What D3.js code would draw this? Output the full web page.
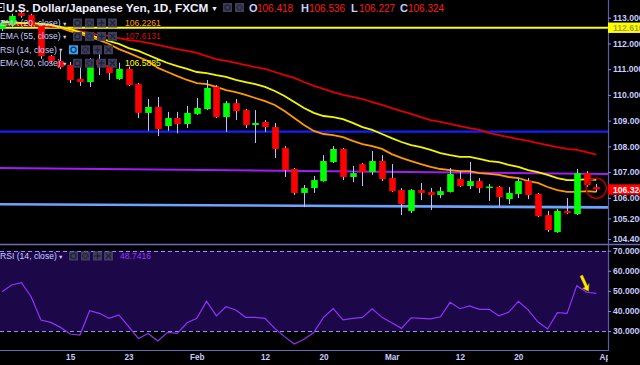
<!DOCTYPE html>
<html>
<head>
<meta charset="utf-8">
<script src="https://cdn.jsdelivr.net/npm/d3@7"></script>
<style>
  html, body { margin: 0; padding: 0; background: #000; }
  svg { display: block; font-family: "Liberation Sans", Arial, sans-serif; }
</style>
</head>
<body>
<div id="chart"></div>
<script>
const width = 640;
const height = 365;
const plotRight = 608;

// trading sessions (2018)
const dates = ["01-04","01-05","01-08","01-09","01-10","01-11","01-12","01-15","01-16","01-17",
  "01-18","01-19","01-22","01-23","01-24","01-25","01-26","01-29","01-30","01-31",
  "02-01","02-02","02-05","02-06","02-07","02-08","02-09","02-12","02-13","02-14",
  "02-15","02-16","02-19","02-20","02-21","02-22","02-23","02-26","02-27","02-28",
  "03-01","03-02","03-05","03-06","03-07","03-08","03-09","03-12","03-13","03-14",
  "03-15","03-16","03-19","03-20","03-21","03-22","03-23","03-26","03-27","03-28",
  "03-29","03-30"];

const open = [112.56,112.72,113.18,113.10,112.68,111.51,111.32,111.16,110.62,110.50,
  111.36,111.16,110.62,111.01,110.42,109.30,109.53,108.79,109.10,108.87,
  109.26,109.45,110.31,109.14,109.68,109.41,108.83,108.95,108.75,107.94,
  107.12,106.19,106.38,106.65,107.39,107.90,106.81,107.31,107.00,107.43,
  106.77,106.30,105.49,106.30,106.23,106.11,106.23,106.73,106.46,106.65,
  106.40,106.42,105.95,106.15,106.65,106.15,105.33,104.67,105.49,105.37,
  106.96,106.418];
const high = [112.91,113.15,113.30,113.15,112.72,111.55,111.70,111.28,111.08,111.43,
  111.74,111.36,111.25,111.10,110.46,109.84,109.92,109.34,109.34,109.57,
  109.88,110.58,110.38,109.76,109.84,109.45,109.41,109.02,108.91,108.01,
  107.16,106.50,106.85,107.66,108.01,107.94,107.24,107.35,107.82,107.66,
  107.31,106.38,106.34,106.58,106.38,106.42,107.16,107.04,107.39,106.77,
  106.54,106.46,106.42,106.77,106.77,106.19,105.49,105.56,105.99,107.12,
  107.04,106.536];
const low = [112.48,112.65,113.00,112.65,111.40,111.25,111.00,110.46,110.35,110.31,
  110.77,110.58,110.58,110.35,109.10,108.60,108.40,108.60,108.51,108.71,
  109.22,109.41,109.10,108.56,109.02,108.71,108.13,108.56,107.55,106.81,
  106.11,105.64,106.19,106.63,107.35,106.69,106.61,106.46,106.89,106.65,
  106.23,105.33,105.41,105.91,105.53,105.99,106.21,106.42,106.34,106.19,
  105.88,105.68,105.76,105.99,105.95,105.25,104.67,104.64,105.37,105.33,
  106.42,106.227];
const close = [112.79,113.07,113.07,112.72,111.51,111.32,111.08,110.58,110.50,111.36,
  111.16,110.85,111.01,110.38,109.30,109.53,108.67,109.10,108.87,109.30,
  109.49,110.27,109.14,109.68,109.37,108.83,108.91,108.75,107.90,107.08,
  106.19,106.38,106.69,107.43,107.90,106.81,106.96,107.00,107.43,106.73,
  106.26,105.76,106.30,106.19,106.11,106.26,106.93,106.46,106.65,106.38,
  106.44,106.03,106.19,106.65,106.11,105.29,104.75,105.49,105.41,106.96,
  106.50,106.324];

const ema20 = [112.83,112.83,112.79,112.79,112.76,112.72,112.60,112.48,112.37,112.25,
  112.13,111.98,111.78,111.63,111.47,111.32,111.05,110.89,110.73,110.58,
  110.46,110.42,110.31,110.19,110.11,110.00,109.88,109.76,109.61,109.37,
  109.10,108.83,108.60,108.48,108.44,108.36,108.21,108.09,108.01,107.90,
  107.70,107.55,107.43,107.31,107.20,107.12,107.08,107.04,107.04,106.96,
  106.93,106.89,106.81,106.77,106.65,106.58,106.42,106.30,106.23,106.23,
  106.26,106.23];
const ema30 = [112.83,112.83,112.79,112.79,112.76,112.72,112.64,112.56,112.44,112.33,
  112.21,112.09,111.98,111.82,111.71,111.55,111.39,111.24,111.12,111.01,
  110.89,110.85,110.77,110.70,110.58,110.50,110.42,110.31,110.15,109.96,
  109.72,109.49,109.30,109.18,109.14,109.06,108.91,108.75,108.64,108.48,
  108.32,108.17,108.05,107.97,107.86,107.74,107.66,107.59,107.59,107.51,
  107.43,107.39,107.28,107.20,107.08,107.00,106.89,106.77,106.69,106.69,
  106.73,106.70];
const ema55 = [112.76,112.72,112.72,112.68,112.68,112.64,112.64,112.56,112.48,112.41,
  112.33,112.29,112.21,112.13,112.09,112.02,111.94,111.86,111.78,111.71,
  111.63,111.51,111.39,111.32,111.24,111.16,111.08,111.01,110.89,110.77,
  110.66,110.50,110.35,110.23,110.11,110.00,109.92,109.84,109.72,109.61,
  109.49,109.37,109.26,109.14,109.02,108.95,108.87,108.79,108.71,108.64,
  108.52,108.44,108.36,108.28,108.21,108.13,108.05,107.97,107.90,107.86,
  107.78,107.68];

const rsi = [49.6,52.9,54.1,47.1,35.5,34.3,31.8,28.5,28.0,40.1,
  38.8,36.3,38.0,32.2,26.3,28.8,25.0,29.3,28.8,34.1,
  36.3,44.9,37.5,42.1,40.5,36.8,36.8,36.3,31.3,27.2,
  23.5,25.9,29.2,36.8,41.1,35.5,36.3,36.8,41.0,36.8,
  34.1,31.3,36.6,36.3,36.0,37.1,44.3,41.1,42.5,40.8,
  40.8,37.6,39.3,44.8,40.5,34.6,31.0,39.1,38.8,52.6,
  49.3,48.7416];

const priceTicks = [113, 112, 111, 110, 109, 108, 107, 106, 105.2, 104.4];
const rsiTicks = [70, 60, 50, 40, 30];
const nextSession = "04-02";
const xTickDates = ["01-15","01-23","02-01","02-12","02-20","03-01","03-12","03-20","04-02"];
const xTickLabels = ["15","23","Feb","12","20","Mar","12","20","Apr"];

// drawn levels: price at the left edge and at the right edge of the plot
const levels = [
  { name: "resistance", left: 112.61, right: 112.61, color: "#ffff00", w: 2 },
  { name: "mid", left: 108.57, right: 108.57, color: "#1420ff", w: 2.2 },
  { name: "trend", left: 107.16, right: 106.93, color: "#a01ef5", w: 2 },
  { name: "support", left: 105.75, right: 105.63, color: "#6ea4ff", w: 2.6 }
];

const legendRows = [
  { label: "EMA (20, close)", value: "106.2261", color: "#ff9d00" },
  { label: "EMA (55, close)", value: "107.6131", color: "#d41010" },
  { label: "RSI (14, close)", value: "", color: "" },
  { label: "EMA (30, close)", value: "106.5885", color: "#ffff00" }
];

const textColor = "#c8ccff";
const axisColor = "#5c5ca8";

const svg = d3.select("#chart")
  .append("svg")
  .attr("width", width)
  .attr("height", height);

svg.append("rect").attr("width", width).attr("height", height).attr("fill", "#000");

const sessions = dates.concat([nextSession]);
const x = d3.scaleLinear().domain([-0.2, 62.2]).range([0, plotRight]);
const y = d3.scaleLinear().domain([104.4, 113]).range([239, 17.7]);
const yRsi = d3.scaleLinear().domain([30, 70]).range([331, 250.7]);

const defs = svg.append("defs");
defs.append("clipPath").attr("id", "clip-price")
  .append("rect").attr("x", 0).attr("y", 0).attr("width", plotRight).attr("height", 243);
defs.append("clipPath").attr("id", "clip-bottom")
  .append("rect").attr("x", 0).attr("y", 240).attr("width", plotRight).attr("height", 125);

// ---------- price panel ----------
const price = svg.append("g").attr("clip-path", "url(#clip-price)");

price.selectAll(".level")
  .data(levels)
  .join("line")
  .attr("class", "level")
  .attr("x1", x(-0.2)).attr("x2", x(62.2))
  .attr("y1", d => y(d.left)).attr("y2", d => y(d.right))
  .attr("stroke", d => d.color)
  .attr("stroke-width", d => d.w);

const emaLine = d3.line().x((d, i) => x(i)).y(d => y(d));
[[ema55, "#e00000"], [ema20, "#ff9900"], [ema30, "#f5f500"]].forEach(([series, color]) => {
  price.append("path")
    .attr("d", emaLine(series))
    .attr("fill", "none")
    .attr("stroke", color)
    .attr("stroke-width", 1.8);
});

const candles = dates.map((d, i) => ({ i, o: open[i], h: high[i], l: low[i], c: close[i] }));

price.selectAll(".wick")
  .data(candles)
  .join("line")
  .attr("class", "wick")
  .attr("x1", d => Math.round(x(d.i)) + 0.5)
  .attr("x2", d => Math.round(x(d.i)) + 0.5)
  .attr("y1", d => y(d.h))
  .attr("y2", d => y(d.l))
  .attr("stroke", "#c0c0ff")
  .attr("stroke-width", 1);

price.selectAll(".body")
  .data(candles)
  .join("rect")
  .attr("class", "body")
  .attr("x", d => Math.round(x(d.i)) - 2.8)
  .attr("width", 6.6)
  .attr("y", d => y(Math.max(d.o, d.c)))
  .attr("height", d => Math.max(1.6, Math.abs(y(d.o) - y(d.c))))
  .attr("fill", d => d.c >= d.o ? "#00ff00" : "#ff0000");

// circle around the last candle
const last = candles[candles.length - 1];
price.append("circle")
  .attr("cx", x(last.i))
  .attr("cy", y((last.o + last.c) / 2))
  .attr("r", 10)
  .attr("fill", "none")
  .attr("stroke", "#b00000")
  .attr("stroke-width", 1.5);

// ---------- header ----------
const header = svg.append("g");
header.append("rect").attr("x", -4).attr("y", 3.5).attr("width", 8).attr("height", 8)
  .attr("fill", "none").attr("stroke", "#e0e0ff").attr("stroke-width", 1);
header.append("line").attr("x1", -2).attr("x2", 2).attr("y1", 7.5).attr("y2", 7.5)
  .attr("stroke", "#e0e0ff");
header.append("text")
  .attr("x", 6).attr("y", 12)
  .attr("font-size", 11.8).attr("font-weight", "bold")
  .attr("fill", "#eeeeff")
  .text("U.S. Dollar/Japanese Yen, 1D, FXCM");
header.append("text").attr("x", 211).attr("y", 10.5).attr("font-size", 7)
  .attr("fill", "#eeeeff").text("▼");

function icon(g, x0, y0, kind, bg) {
  g.append("rect").attr("x", x0).attr("y", y0).attr("width", 9).attr("height", 9)
    .attr("fill", bg || "#3e3e5c");
  const cx = x0 + 4.5, cy = y0 + 4.5, ink = bg ? "#103060" : "#202036";
  if (kind === "eye") {
    g.append("circle").attr("cx", cx).attr("cy", cy).attr("r", 2.6)
      .attr("fill", "none").attr("stroke", ink).attr("stroke-width", 1.2);
  } else if (kind === "gear") {
    g.append("circle").attr("cx", cx).attr("cy", cy).attr("r", 2.4)
      .attr("fill", "none").attr("stroke", ink).attr("stroke-width", 1.8).attr("stroke-dasharray", "1.2,0.8");
  } else if (kind === "plus") {
    g.append("path").attr("d", `M${cx - 3},${cy}H${cx + 3}M${cx},${cy - 3}V${cy + 3}`)
      .attr("stroke", ink).attr("stroke-width", 1.3);
  } else {
    g.append("path").attr("d", `M${cx - 2.5},${cy - 2.5}L${cx + 2.5},${cy + 2.5}M${cx + 2.5},${cy - 2.5}L${cx - 2.5},${cy + 2.5}`)
      .attr("stroke", ink).attr("stroke-width", 1.3);
  }
}

icon(header, 223, 3, "eye");
icon(header, 235, 3, "gear");

const ohlcLabels = [["O", open], ["H", high], ["L", low], ["C", close]];
const ohlcX = [249, 301, 351, 400];
ohlcLabels.forEach(([k, arr], j) => {
  header.append("text").attr("x", ohlcX[j]).attr("y", 12)
    .attr("font-size", 11).attr("font-weight", "bold").attr("fill", textColor).text(k);
  header.append("text").attr("x", ohlcX[j] + 8).attr("y", 12)
    .attr("font-size", 10).attr("fill", "#ff1a1a").text(d3.format(".3f")(arr[arr.length - 1]));
});

// ---------- legend ----------
const legend = svg.append("g");
legendRows.forEach((row, j) => {
  const cy = 23 + j * 13.4;
  legend.append("text").attr("x", 0).attr("y", cy + 3)
    .attr("font-size", 8.6).attr("fill", textColor).text(row.label);
  const isRsi = row.value === "";
  const arrowX = isRsi ? 54 : 58;
  legend.append("text").attr("x", arrowX + 4).attr("y", cy + 2.5)
    .attr("font-size", 5.5).attr("fill", textColor).text("▼");
  const ix = isRsi ? 69 : 73;
  icon(legend, ix, cy - 4.5, "eye", isRsi ? "#39a6f2" : null);
  icon(legend, ix + 12, cy - 4.5, "gear");
  icon(legend, ix + 24, cy - 4.5, "plus");
  icon(legend, ix + 35, cy - 4.5, "close");
  if (!isRsi) {
    legend.append("text").attr("x", 125).attr("y", cy + 3)
      .attr("font-size", 8.6).attr("fill", row.color).text(row.value);
  }
});

// ---------- RSI panel ----------
svg.append("rect")
  .attr("x", 0).attr("width", plotRight)
  .attr("y", yRsi(70)).attr("height", yRsi(30) - yRsi(70))
  .attr("fill", "#1c0849");

svg.selectAll(".rsi-band")
  .data([70, 30])
  .join("line")
  .attr("class", "rsi-band")
  .attr("x1", 0).attr("x2", plotRight)
  .attr("y1", d => Math.round(yRsi(d)) + 0.5).attr("y2", d => Math.round(yRsi(d)) + 0.5)
  .attr("stroke", "#9a8cff")
  .attr("stroke-width", 1)
  .attr("stroke-dasharray", "4,3");

svg.append("path")
  .attr("clip-path", "url(#clip-bottom)")
  .attr("d", d3.line().x((d, i) => x(i)).y(d => yRsi(d))(rsi))
  .attr("fill", "none")
  .attr("stroke", "#8f33ff")
  .attr("stroke-width", 1.2);

svg.append("text").attr("x", 0).attr("y", 259)
  .attr("font-size", 8.6).attr("fill", textColor).text("RSI (14, close)");
svg.append("text").attr("x", 58).attr("y", 258.5)
  .attr("font-size", 5.5).attr("fill", textColor).text("▼");
const rsiLegend = svg.append("g");
icon(rsiLegend, 69, 251.5, "eye");
icon(rsiLegend, 81, 251.5, "gear");
icon(rsiLegend, 93, 251.5, "plus");
icon(rsiLegend, 104, 251.5, "close");
svg.append("text").attr("x", 120).attr("y", 259)
  .attr("font-size", 8.6).attr("fill", "#9b35ff").text(d3.format(".4f")(rsi[rsi.length - 1]));

// yellow pointer near the RSI turn
const tipX = x(rsi.length - 2) + 2, tipY = yRsi(rsi[rsi.length - 2]) - 1;
svg.append("path")
  .attr("d", `M${tipX},${tipY} l-6,-3 l2.5,-1 l-5,-11 l2.5,-1.2 l5,11 l1.5,-2.5 z`)
  .attr("fill", "#ffee00")
  .attr("stroke", "#c8a800")
  .attr("stroke-width", 0.5);

// ---------- frames & axes ----------
svg.append("line").attr("x1", 0).attr("x2", width).attr("y1", 244.5).attr("y2", 244.5)
  .attr("stroke", "#6a6ab8").attr("stroke-width", 1.6);
svg.append("line").attr("x1", 0).attr("x2", plotRight).attr("y1", 350.5).attr("y2", 350.5)
  .attr("stroke", "#6a6ab8").attr("stroke-width", 1.2);
svg.append("line").attr("x1", plotRight + 0.5).attr("x2", plotRight + 0.5).attr("y1", 0).attr("y2", 351)
  .attr("stroke", axisColor).attr("stroke-width", 1.2);

function styleAxis(g, size) {
  g.select(".domain").remove();
  g.selectAll("line").attr("stroke", "#8a8ad0");
  g.selectAll("text")
    .attr("fill", textColor)
    .attr("font-size", size)
    .attr("font-weight", "bold")
    .attr("font-family", "Liberation Sans, Arial, sans-serif");
}

svg.append("g")
  .attr("transform", `translate(${plotRight},0)`)
  .call(d3.axisRight(y).tickValues(priceTicks).tickFormat(d3.format(".3f")).tickSize(3).tickPadding(2))
  .call(g => styleAxis(g, 8.6));

svg.append("g")
  .attr("transform", `translate(${plotRight},0)`)
  .call(d3.axisRight(yRsi).tickValues(rsiTicks).tickFormat(d3.format(".4f")).tickSize(3).tickPadding(2))
  .call(g => styleAxis(g, 8.6));

// price tags on the axis
const tags = [
  { value: levels[0].left, fill: "#ffff00", text: "#a8a040" },
  { value: last.c, fill: "#ff0000", text: "#ffffff" }
];
tags.forEach(t => {
  svg.append("rect").attr("x", plotRight).attr("y", y(t.value) - 5.2)
    .attr("width", width - plotRight).attr("height", 10.4).attr("fill", t.fill);
  svg.append("text").attr("x", plotRight + 5).attr("y", y(t.value) + 3.2)
    .attr("font-size", 8.6).attr("font-weight", "bold").attr("fill", t.text)
    .text(d3.format(".3f")(t.value));
});

const xAxis = d3.axisBottom(x)
  .tickValues(xTickDates.map(d => sessions.indexOf(d)))
  .tickFormat((d, i) => xTickLabels[i])
  .tickSize(0)
  .tickPadding(4);

svg.append("g")
  .attr("clip-path", "url(#clip-bottom)")
  .append("g")
  .attr("transform", "translate(0,350)")
  .call(xAxis)
  .call(g => styleAxis(g, 8.2));
</script>
</body>
</html>
